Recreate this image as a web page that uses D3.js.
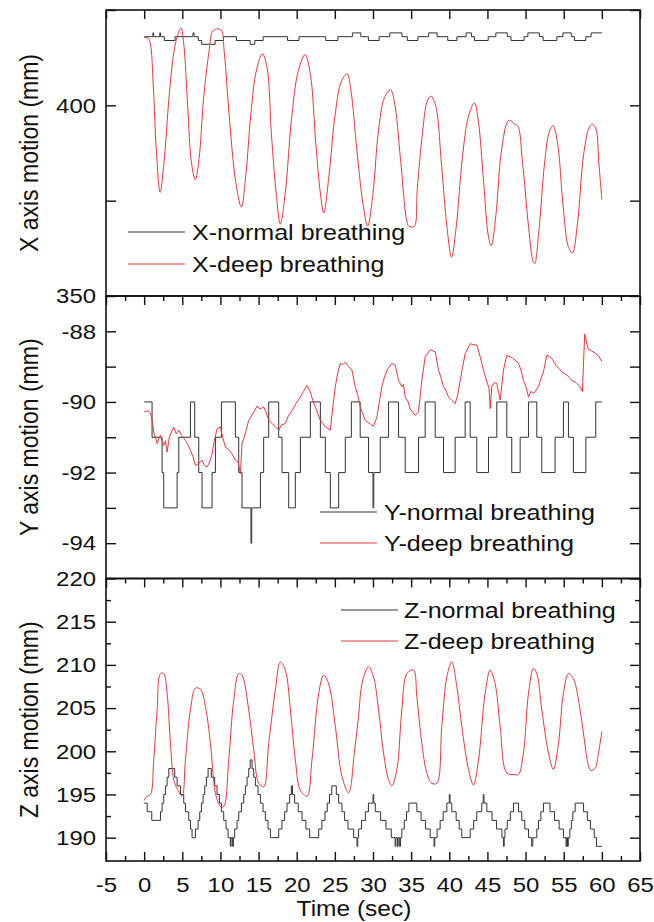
<!DOCTYPE html>
<html><head><meta charset="utf-8">
<script src="https://cdn.jsdelivr.net/npm/d3@7"></script>
<style>
body{margin:0;background:#fff}
svg{display:block}
text{font-family:"Liberation Sans",Arial,sans-serif;fill:#111}
</style>
</head><body>
<svg id="chart" width="654" height="922"></svg>
<script>
// ---------------- data ----------------
const timeTicks = [-5,0,5,10,15,20,25,30,35,40,45,50,55,60,65];
const timeMinor = [-2.5,2.5,7.5,12.5,17.5,22.5,27.5,32.5,37.5,42.5,47.5,52.5,57.5,62.5];
const xAxisTicks = [350,375,400,425];
const xAxisLabels = [350,400];
const yAxisTicks = [-94,-93,-92,-91,-90,-89,-88];
const yAxisLabels = [-94,-92,-90,-88];
const zAxisTicks = [190,195,200,205,210,215,220];
const zAxisMinor = [192.5,197.5,202.5,207.5,212.5,217.5];

const legendX = ["X-normal breathing","X-deep breathing"];
const legendY = ["Y-normal breathing","Y-deep breathing"];
const legendZ = ["Z-normal breathing","Z-deep breathing"];

// [time (s), position (mm)]
const xNormal = [[0,418],[1.15,419],[1.25,418],[2.05,419],[2.15,418],[2.65,417],[4.05,418],[6.4,419],[6.55,418],[7.1,417],[7.55,416],[9.3,417],[10.4,418],[12.1,417],[13.9,416],[14.5,417],[15.6,418],[18.8,417],[20.3,418],[23.8,417],[25.4,418],[27.3,419],[28.4,418],[29.4,417],[30.8,418],[32.2,419],[33.8,418],[34.5,417],[35.9,418],[37.3,419],[38.4,418],[39.8,417],[41.0,418],[42.2,419],[42.9,418],[43.3,417],[45.1,418],[46.1,419],[47.6,418],[48.1,417],[49.8,418],[50.3,419],[51.8,418],[52.3,417],[54.1,418],[54.9,419],[56.0,418],[56.4,417],[57.9,418],[58.6,419],[60,419]];

const xDeep = [[0,417.8],[0.5,417.6],[0.8,416.3],[1.2,405],[1.6,388],[2.1,377.2],[2.6,385],[3.3,403],[3.9,414],[4.4,418.5],[4.85,420.3],[5.2,416],[5.7,400],[6.2,385],[6.7,380.5],[7.2,386],[7.8,402],[8.5,414],[9.0,419.5],[9.5,420],[10.1,419.8],[10.5,414],[11.2,396],[12.0,380],[12.75,373.3],[13.3,381],[14.0,398],[14.7,409],[15.5,413.5],[16.1,410],[16.7,392],[17.3,377],[17.85,368.9],[18.5,377],[19.3,396],[20.2,409],[21.1,413.3],[21.8,408],[22.5,390],[23.1,377],[23.55,371.8],[24.2,381],[25.0,397],[25.8,406],[26.6,408.3],[27.1,404],[27.9,388],[28.7,374],[29.3,368.3],[30.0,377],[30.7,393],[31.5,402],[32.3,404.1],[32.8,401],[33.6,386],[34.4,370],[34.7,368.3],[35.4,368.3],[35.8,378],[36.5,393],[37.1,401],[37.6,402.4],[38.2,400],[39.0,384],[39.7,368],[40.3,360.2],[40.9,368],[41.7,386],[42.5,397],[43.3,400.6],[43.8,396],[44.5,380],[45.1,366],[45.5,363.2],[46.1,371],[46.9,389],[47.8,396.1],[48.6,395],[49.0,394.5],[49.6,385],[50.4,368],[51.0,359],[51.2,358.5],[51.7,366],[52.5,385],[53.1,393],[53.6,394.7],[54.2,390],[54.9,374],[55.6,363],[56.15,361.3],[56.8,369],[57.6,387],[58.3,394],[58.7,395.1],[59.2,394],[59.6,385],[60,375.3]];

const yNormal = [[0,-90],[1.04,-91],[2.35,-92],[2.57,-93],[4.32,-92],[4.54,-91],[6.07,-90],[6.63,-91],[7.16,-92],[7.59,-93],[8.9,-92],[9.34,-91],[10.13,-90],[11.96,-91],[12.4,-92],[12.83,-93],[14.0,-94],[14.1,-93],[15.24,-92],[15.67,-91],[16.33,-90],[17.64,-91],[18.07,-92],[18.95,-93],[19.82,-92],[20.48,-91],[21.79,-90],[23.1,-91],[23.75,-92],[24.41,-93],[25.5,-92],[26.37,-91],[27.16,-90],[28.32,-91],[29.42,-92],[30.0,-93],[30.1,-92],[30.95,-91],[32.04,-90],[33.35,-91],[34.22,-92],[35.97,-91],[36.84,-90],[38.15,-91],[39.24,-92],[40.77,-91],[42.08,-90],[42.74,-91],[43.61,-92],[45.14,-91],[46.23,-90],[47.54,-91],[48.19,-92],[49.29,-91],[50.38,-90],[51.47,-91],[52.13,-92],[53.87,-91],[54.96,-90],[55.62,-91],[56.27,-92],[57.9,-91],[59.2,-90],[60,-90]];

const yDeep = [[0,-90.28],[0.5,-90.25],[0.83,-90.31],[1.04,-90.52],[1.3,-90.9],[1.48,-91.0],[1.7,-91.18],[1.9,-91.05],[2.14,-90.95],[2.35,-91.1],[2.57,-91.23],[2.8,-91.1],[3.01,-91.42],[3.3,-91.0],[3.6,-90.85],[3.88,-90.71],[4.2,-90.9],[4.54,-90.8],[4.9,-90.95],[5.41,-91.09],[5.7,-91.2],[6.07,-91.37],[6.4,-91.55],[6.72,-91.8],[7.1,-91.75],[7.59,-91.65],[7.9,-91.8],[8.25,-91.84],[8.6,-91.7],[8.9,-91.47],[9.2,-91.1],[9.56,-90.76],[10.0,-90.71],[10.3,-91.0],[10.65,-91.28],[11.1,-91.35],[11.52,-91.47],[11.96,-91.65],[12.3,-91.7],[12.62,-92.03],[12.83,-91.18],[13.2,-90.95],[13.71,-90.52],[14.2,-90.35],[14.8,-90.12],[15.2,-90.2],[15.67,-90.14],[16.0,-90.3],[16.33,-90.52],[16.76,-90.61],[17.2,-90.7],[17.64,-90.8],[18.0,-90.65],[18.51,-90.61],[18.9,-90.4],[19.38,-90.24],[19.9,-90.05],[20.48,-89.86],[20.9,-89.7],[21.35,-89.53],[21.79,-89.72],[22.1,-89.95],[22.44,-90.14],[22.8,-90.35],[23.1,-90.52],[23.4,-90.6],[23.75,-90.71],[24.1,-90.75],[24.41,-90.8],[24.7,-90.2],[25.06,-89.57],[25.4,-89.15],[25.72,-88.91],[26.0,-88.95],[26.37,-88.87],[26.8,-89.0],[27.24,-89.1],[27.67,-89.57],[28.0,-89.8],[28.32,-90.14],[28.6,-90.3],[28.98,-90.52],[29.5,-90.6],[30.07,-90.69],[30.51,-90.43],[31.16,-89.57],[31.5,-89.3],[31.82,-89.1],[32.47,-88.91],[32.91,-88.96],[33.35,-89.39],[33.78,-89.57],[34.0,-89.5],[34.22,-89.86],[34.6,-90.0],[34.88,-90.19],[35.2,-90.3],[35.53,-90.38],[35.97,-90.28],[36.4,-89.39],[36.84,-88.72],[37.5,-88.52],[38.15,-88.58],[38.59,-89.1],[38.9,-89.3],[39.24,-89.57],[39.6,-89.7],[39.9,-89.86],[40.3,-89.95],[40.77,-90.05],[41.1,-89.8],[41.43,-89.39],[42.08,-88.63],[42.74,-88.35],[43.2,-88.38],[43.61,-88.39],[44.05,-88.72],[44.48,-89.1],[44.92,-89.43],[45.2,-89.6],[45.36,-90.19],[45.57,-89.57],[45.9,-89.45],[46.23,-89.48],[46.67,-89.95],[47.1,-89.1],[47.54,-88.68],[48.0,-88.72],[48.41,-88.77],[49.07,-88.91],[49.4,-89.1],[49.72,-89.39],[50.1,-89.6],[50.38,-89.86],[50.7,-89.7],[51.03,-89.76],[51.69,-89.57],[52.0,-89.35],[52.34,-89.15],[52.78,-88.68],[53.1,-88.7],[53.43,-88.77],[54.09,-89.0],[54.4,-89.05],[54.74,-89.15],[55.4,-89.24],[55.7,-89.3],[56.05,-89.39],[56.6,-89.45],[57.15,-89.57],[57.45,-89.7],[57.75,-88.08],[58.2,-88.5],[58.6,-88.55],[59.0,-88.6],[59.6,-88.7],[60,-88.85]];

const zNormal = [[0,194],[0.4,193],[1.0,192],[2.14,193],[2.35,194],[2.57,195],[2.79,196],[3.01,197],[3.23,198],[4.01,197],[4.32,196],[4.76,195],[5.19,194],[5.41,193],[5.85,192],[6.07,191],[6.28,190],[6.72,191],[7.07,192],[7.29,193],[7.51,194],[7.73,195],[7.94,196],[8.16,197],[8.38,198],[8.8,197],[9.25,196],[9.56,195],[9.86,194],[10.13,193],[10.43,192],[10.74,191],[11.0,190],[11.3,189],[11.4,190],[11.6,189],[11.7,190],[11.87,191],[12.18,192],[12.4,193],[12.75,194],[13.05,195],[13.27,196],[13.49,197],[13.71,198],[13.9,199],[14.15,198],[14.36,197],[14.58,196],[14.93,195],[15.24,194],[15.58,193],[15.89,192],[16.24,191],[16.55,190],[17.64,191],[18.07,192],[18.42,193],[18.73,194],[19.08,195],[19.3,196],[19.45,195],[19.73,194],[20.2,193],[20.7,192],[21.2,191],[21.7,190],[22.88,191],[23.3,192],[23.7,193],[24.0,194],[24.3,195],[24.6,196],[25.19,195],[25.5,194],[25.93,193],[26.28,192],[26.72,191],[27.46,190],[27.9,189],[28.0,190],[28.11,191],[28.5,192],[29.0,193],[29.4,194],[30.0,195],[30.1,194],[30.3,193],[31.0,192],[31.7,191],[32.4,190],[32.9,189],[33.0,190],[33.2,189],[33.3,190],[33.5,189],[33.6,190],[33.78,191],[34.1,192],[34.4,193],[34.7,194],[35.75,193],[36.3,192],[36.9,191],[37.5,190],[38.0,189],[38.1,190],[38.4,191],[38.8,192],[39.2,193],[39.68,194],[40.0,195],[40.1,194],[40.33,193],[40.9,192],[41.3,191],[41.64,190],[42.74,191],[43.2,192],[43.6,193],[44.26,194],[44.45,195],[44.55,194],[44.92,193],[45.6,192],[46.2,191],[46.9,190],[47.1,189],[47.2,190],[47.3,191],[47.6,192],[48.0,193],[48.41,194],[49.07,193],[49.5,192],[49.9,191],[50.38,190],[50.8,189],[50.95,190],[51.47,191],[51.7,192],[52.0,193],[52.34,194],[53.2,193],[53.8,192],[54.4,191],[54.96,190],[55.3,189],[55.4,190],[55.5,189],[55.6,190],[55.8,191],[56.0,192],[56.2,193],[56.5,194],[57.6,193],[58.1,192],[58.5,191],[59.0,190],[59.3,189],[60,189]];

const zDeep = [[0,194.3],[0.39,194.8],[0.83,195.0],[1.26,199.0],[1.7,204.8],[2.14,209.0],[2.57,209.0],[3.01,206.7],[3.45,200.9],[3.88,196.7],[4.32,195.7],[4.97,194.8],[5.41,199.0],[6.07,204.8],[6.72,207.3],[7.38,207.2],[8.03,205.2],[8.69,200.9],[9.34,195.2],[10.0,193.6],[10.43,193.6],[11.09,199.0],[11.74,205.9],[12.4,209.0],[12.83,208.8],[13.71,204.8],[14.36,200.2],[15.02,196.3],[15.67,195.9],[16.33,200.9],[17.2,207.1],[17.86,210.35],[18.51,209.4],[19.17,204.8],[19.82,199.0],[20.48,195.5],[21.35,194.8],[22.0,199.0],[22.88,206.7],[23.53,208.8],[24.19,207.8],[25.06,202.9],[25.93,197.1],[26.81,195.2],[27.6,200.2],[28.1,204.0],[28.6,208.0],[29.42,209.8],[30.07,208.6],[30.73,204.8],[31.38,199.8],[32.04,196.7],[32.47,196.0],[33.13,197.9],[33.78,204.8],[34.44,209.0],[35.31,209.4],[35.75,206.3],[36.4,200.9],[37.06,197.5],[37.71,196.3],[38.37,196.3],[39.02,202.9],[39.68,208.6],[40.33,210.35],[40.99,207.5],[41.64,202.9],[42.52,197.9],[43.17,196.1],[43.83,199.0],[44.7,206.7],[45.36,209.4],[46.01,207.8],[46.67,202.9],[47.54,197.5],[48.63,197.3],[49.07,197.3],[49.72,199.8],[50.38,206.7],[51.03,209.6],[51.47,209.0],[52.13,204.8],[53.0,199.8],[53.65,197.9],[54.31,200.9],[54.96,206.7],[55.62,209.0],[56.27,208.4],[57.15,204.8],[57.6,202.0],[58.2,198.5],[58.5,197.8],[59.1,198.0],[59.5,199.5],[60,202.3]];

// ---------------- drawing ----------------
const svg = d3.select("#chart");
const L = 106, R = 640;
const SX = 1.14;           // horizontal stretch of the original raster text
const RED = "#e8383d", BLACK = "#333";
const x = d3.scaleLinear().domain([-5, 65]).range([L, R]);
const fmt = d => String(d);   // plain hyphen-minus, as in the original

const panels = [
  {top:10,    bottom:296,   domain:[350,425],  ticks:xAxisTicks, labels:xAxisLabels, minor:[], title:"X axis motion (mm)",
   normal:xNormal, deep:xDeep, deepCurve:d3.curveCatmullRom.alpha(0.5), topMinor:false,
   legend:legendX, leg:{x1:128,x2:185,tx:192,y1:232,y2:264}},
  {top:296,   bottom:578.5, domain:[-95,-87],  ticks:yAxisTicks, labels:yAxisLabels, minor:[], title:"Y axis motion (mm)",
   normal:yNormal, deep:yDeep, deepCurve:d3.curveLinear, topMinor:true,
   legend:legendY, leg:{x1:320,x2:377,tx:384,y1:512,y2:543}},
  {top:578.5, bottom:861,   domain:[187.3,220],ticks:zAxisTicks, labels:zAxisTicks, minor:zAxisMinor, title:"Z axis motion (mm)",
   normal:zNormal, deep:zDeep, deepCurve:d3.curveCatmullRom.alpha(0.5), topMinor:true,
   legend:legendZ, leg:{x1:341,x2:398,tx:404,y1:610,y2:641}}
];

function styleAxis(g){
  g.select(".domain").remove();
  g.selectAll("line").attr("stroke","#111").attr("stroke-width",1.4);
  g.attr("font-size",21).attr("font-family","Liberation Sans, Arial, sans-serif");
}

panels.forEach((p, i) => {
  const y = d3.scaleLinear().domain(p.domain).range([p.bottom, p.top]);
  const g = svg.append("g");

  // data lines
  g.append("path").datum(p.normal)
    .attr("fill","none").attr("stroke",BLACK).attr("stroke-width",1)
    .attr("d", d3.line().x(d=>x(d[0])).y(d=>y(d[1])).curve(d3.curveStepAfter));
  g.append("path").datum(p.deep)
    .attr("fill","none").attr("stroke",RED).attr("stroke-width",1)
    .attr("d", d3.line().x(d=>x(d[0])).y(d=>y(d[1])).curve(p.deepCurve));

  // left axis (inward ticks)
  const la = g.append("g").attr("transform",`translate(${L},0)`)
    .call(d3.axisLeft(y).tickValues(p.ticks).tickSize(-10).tickSizeOuter(0).tickPadding(10)
      .tickFormat(d => p.labels.includes(d) ? fmt(d) : ""));
  styleAxis(la);
  la.selectAll("text").attr("x",0).attr("fill","#111")
    .attr("transform","translate(-10,0) scale(" + SX + ",1)");
  if (p.minor.length){
    const lm = g.append("g").attr("transform",`translate(${L},0)`)
      .call(d3.axisLeft(y).tickValues(p.minor).tickSize(-5).tickSizeOuter(0).tickFormat(""));
    styleAxis(lm);
  }
  // right axis
  const ra = g.append("g").attr("transform",`translate(${R},0)`)
    .call(d3.axisRight(y).tickValues(p.ticks).tickSize(-10).tickSizeOuter(0).tickFormat(""));
  styleAxis(ra);
  if (p.minor.length){
    const rm = g.append("g").attr("transform",`translate(${R},0)`)
      .call(d3.axisRight(y).tickValues(p.minor).tickSize(-5).tickSizeOuter(0).tickFormat(""));
    styleAxis(rm);
  }
  // top edge ticks (pointing down into panel)
  const ta = g.append("g").attr("transform",`translate(0,${p.top})`)
    .call(d3.axisTop(x).tickValues(timeTicks).tickSize(-9).tickSizeOuter(0).tickFormat(""));
  styleAxis(ta);
  if (p.topMinor){
    const tm = g.append("g").attr("transform",`translate(0,${p.top})`)
      .call(d3.axisTop(x).tickValues(timeMinor).tickSize(-5).tickSizeOuter(0).tickFormat(""));
    styleAxis(tm);
  }

  // frame
  g.append("rect").attr("x",L).attr("y",p.top).attr("width",R-L).attr("height",p.bottom-p.top)
    .attr("fill","none").attr("stroke","#111").attr("stroke-width",1.6);

  // y title
  g.append("text")
    .attr("transform",`translate(29,${(p.top+p.bottom)/2}) scale(${SX},1) rotate(-90)`)
    .attr("text-anchor","middle").attr("dy","0.35em")
    .attr("font-size",23).text(p.title);

  // legend
  const lg = g.append("g");
  [[p.leg.y1, BLACK, p.legend[0]],[p.leg.y2, RED, p.legend[1]]].forEach(([yy,c,t]) => {
    lg.append("line").attr("x1",p.leg.x1).attr("x2",p.leg.x2).attr("y1",yy).attr("y2",yy)
      .attr("stroke",c).attr("stroke-width",1);
    lg.append("text").attr("transform",`translate(${p.leg.tx},${yy}) scale(${SX},1)`)
      .attr("dy","0.35em").attr("font-size",22).text(t);
  });

  // bottom axis on the last panel
  if (i === panels.length-1){
    const ba = g.append("g").attr("transform",`translate(0,${p.bottom})`)
      .call(d3.axisBottom(x).tickValues(timeTicks).tickSize(-9).tickSizeOuter(0).tickPadding(16)
        .tickFormat(fmt));
    styleAxis(ba);
    ba.selectAll("text").attr("fill","#111").attr("transform",`scale(${SX},1)`);
    const bm = g.append("g").attr("transform",`translate(0,${p.bottom})`)
      .call(d3.axisBottom(x).tickValues(timeMinor).tickSize(-5).tickSizeOuter(0).tickFormat(""));
    styleAxis(bm);
  }
});

// x title
svg.append("text").attr("transform",`translate(354,916) scale(${SX},1)`)
  .attr("text-anchor","middle").attr("font-size",21.5).text("Time (sec)");
</script>
</body></html>
